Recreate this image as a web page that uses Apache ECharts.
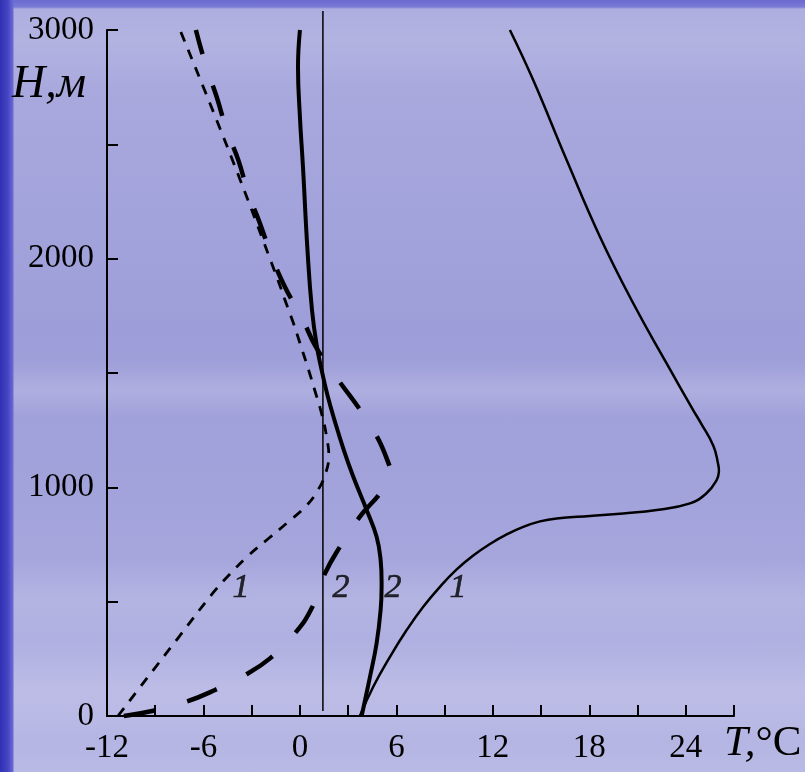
<!DOCTYPE html>
<html>
<head>
<meta charset="utf-8">
<script src="https://cdn.jsdelivr.net/npm/echarts@6/dist/echarts.min.js"></script>
<style>
  html, body { margin: 0; padding: 0; }
  #wrap {
    width: 805px; height: 772px; position: relative; overflow: hidden;
    background:
      linear-gradient(to right, #2f2fb2 0px, #4646c4 8px, #6a6ad4 13px, rgba(0,0,0,0) 14px),
      linear-gradient(to bottom, #6a6ad0 0px, #7a7ad6 7px, rgba(0,0,0,0) 9px),
      linear-gradient(to bottom,
        rgba(255,255,255,0) 0px, rgba(255,255,255,0.10) 40px, rgba(255,255,255,0) 90px,
        rgba(255,255,255,0) 360px, rgba(255,255,255,0.16) 390px, rgba(255,255,255,0) 420px,
        rgba(255,255,255,0) 560px, rgba(255,255,255,0.14) 600px, rgba(255,255,255,0.05) 640px,
        rgba(255,255,255,0.16) 690px, rgba(255,255,255,0.06) 740px, rgba(255,255,255,0.14) 772px),
      linear-gradient(to bottom, #acacdf 0px, #a4a4dc 200px, #9d9dd9 330px, #a2a2db 470px, #a8a8de 600px, #b2b2e3 720px, #aeaee1 772px);
  }
  #chart { width: 805px; height: 772px; }
</style>
</head>
<body>
<div id="wrap"><div id="chart"></div></div>
<script>
// temperature profiles T(H); heights in m, temperatures in °C

// curve 1, thin solid
const solid1H = [0, 128, 259, 376, 478, 565, 641, 702, 752, 794, 827, 851, 864, 875, 886, 901, 930, 974, 1032, 1067, 1106, 1181, 1281, 1338, 1542, 1805, 2096, 2431, 2781, 3000];
const solid1T = [3.73, 4.56, 5.6, 6.64, 7.67, 8.71, 9.75, 10.78, 11.82, 12.86, 13.89, 14.93, 15.97, 18.04, 20.11, 22.19, 24.26, 25.29, 25.92, 26.06, 26.0, 25.72, 24.94, 24.46, 22.81, 20.73, 18.66, 16.59, 14.51, 13.06];

// curve 2, thick solid
const solid2H = [0, 172, 318, 464, 565, 682, 784, 901, 1046, 1163, 1294, 1404, 1513, 1614, 1776, 2038, 2400, 2620, 2838, 3000];
const solid2T = [3.84, 4.36, 4.77, 5.02, 5.08, 5.02, 4.77, 4.15, 3.32, 2.73, 2.15, 1.71, 1.35, 1.06, 0.75, 0.47, 0.19, 0.0, -0.12, 0.0];

// curve 1, short dashes
const dash1H = [0, 171, 341, 538, 621, 700, 774, 848, 918, 988, 1054, 1128, 1221, 1322, 1418, 1513, 1631, 1723, 1819, 1907, 2450, 3000];
const dash1T = [-11.32, -9.45, -7.58, -5.41, -4.35, -3.23, -1.99, -0.74, 0.38, 1.12, 1.56, 1.79, 1.66, 1.35, 0.95, 0.54, 0.0, -0.43, -0.93, -1.37, -4.3, -7.46];

// curve 2, long dashes
const dash2H = [0, 23, 63, 114, 179, 252, 362, 471, 624, 740, 872, 974, 1050, 1120, 1251, 1373, 1487, 1613, 1740, 1876, 2007, 2155, 2286, 2431, 2563, 2708, 2856, 3000];
const dash2T = [-10.95, -9.12, -7.04, -5.28, -3.42, -1.86, -0.31, 0.73, 1.56, 2.49, 3.73, 4.98, 5.6, 5.43, 4.56, 3.4, 2.2, 1.0, 0.13, -0.93, -1.74, -2.49, -3.21, -3.83, -4.56, -5.18, -5.9, -6.47];

// thin vertical reference line
const refT = [1.43, 1.43];
const refH = [22, 3083];

// curve numbers
const noteT = [-3.67, 2.55, 5.79, 9.83];
const noteH = [560, 560, 560, 560];
const noteText = ["1", "2", "2", "1"];

const SERIF = "'Liberation Serif', 'Times New Roman', serif";

const pairs = (ts, hs) => ts.map((t, i) => [t, hs[i]]);

// how each profile is stroked
const curves = [
  { pts: pairs(solid1T, solid1H), width: 2.5, dash: null },
  { pts: pairs(solid2T, solid2H), width: 4, dash: null },
  { pts: pairs(dash1T, dash1H), width: 2.8, dash: [10, 9] },
  { pts: pairs(dash2T, dash2H), width: 4.5, dash: [32, 33] },
];

const chart = echarts.init(document.getElementById("chart"));

chart.setOption({
  backgroundColor: "transparent",
  animation: false,
  grid: { left: 107, right: 71, top: 30, bottom: 56 },
  xAxis: {
    type: "value",
    min: -12,
    max: 27,
    interval: 3,
    splitLine: { show: false },
    axisLine: { onZero: false, lineStyle: { color: "#000", width: 2 } },
    axisTick: { inside: true, length: 11, lineStyle: { color: "#000", width: 2 } },
    axisLabel: {
      margin: 16,
      color: "#000",
      fontFamily: SERIF,
      fontSize: 33,
      formatter: (v) => (v % 6 === 0 && v !== 27 ? String(v) : ""),
    },
  },
  yAxis: {
    type: "value",
    min: 0,
    max: 3000,
    interval: 500,
    splitLine: { show: false },
    axisLine: { onZero: false, lineStyle: { color: "#000", width: 2 } },
    axisTick: { inside: true, length: 11, lineStyle: { color: "#000", width: 2 } },
    axisLabel: {
      margin: 13,
      color: "#000",
      fontFamily: SERIF,
      fontSize: 33,
      formatter: (v) => (v % 1000 === 0 ? String(v) : ""),
    },
  },
  graphic: [
    {
      type: "text",
      left: 12,
      top: 62,
      style: { text: "H,м", fontFamily: SERIF, fontStyle: "italic", fontSize: 46, fill: "#000" },
    },
    {
      type: "text",
      left: 724,
      top: 722,
      style: {
        text: "{i|T,}{n|°C}",
        rich: {
          i: { fontFamily: SERIF, fontStyle: "italic", fontSize: 43, fill: "#000" },
          n: { fontFamily: SERIF, fontSize: 43, fill: "#000" },
        },
      },
    },
  ],
  series: [
    {
      name: "ref",
      type: "line",
      clip: false,
      showSymbol: false,
      data: pairs(refT, refH),
      lineStyle: { color: "#000", width: 1.5 },
    },
    {
      // profiles: one smooth polyline per curve, points mapped through the axes
      name: "profiles",
      type: "custom",
      data: curves.map((c, i) => [i]),
      renderItem: (params, api) => {
        const c = curves[api.value(0)];
        return {
          type: "polyline",
          shape: { points: c.pts.map((p) => api.coord(p)), smooth: 0.45 },
          style: {
            fill: null,
            stroke: "#000",
            lineWidth: c.width,
            lineDash: c.dash,
            lineCap: "butt",
          },
        };
      },
    },
    {
      name: "notes",
      type: "scatter",
      symbolSize: 0,
      itemStyle: { color: "#000" },
      data: noteT.map((t, i) => [t, noteH[i], noteText[i]]),
      label: {
        show: true,
        position: "inside",
        formatter: (p) => p.data[2],
        color: "#000",
        textBorderColor: "#000",
        textBorderWidth: 0.6,
        fontFamily: SERIF,
        fontStyle: "italic",
        fontSize: 34,
      },
    },
  ],
});
</script>
</body>
</html>
